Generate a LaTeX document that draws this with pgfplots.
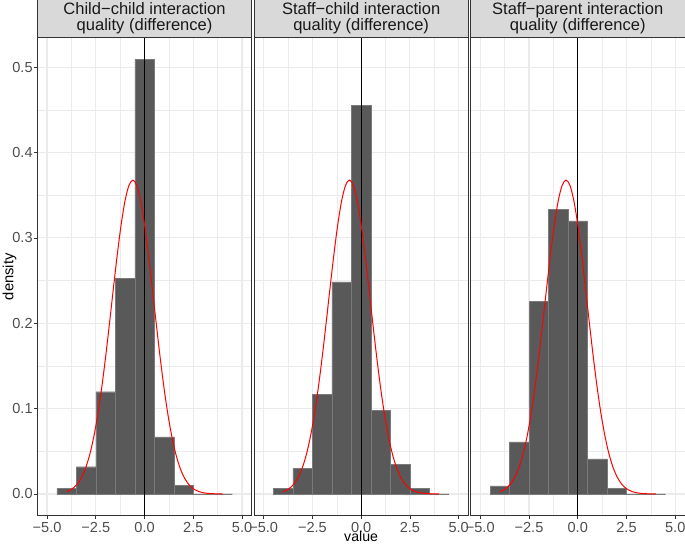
\documentclass[border=0pt]{standalone}
\usepackage{fontspec}
\setmainfont{Liberation Sans}
\usepackage{pgfplots}
\pgfplotsset{compat=1.18}
\definecolor{gridc}{HTML}{EBEBEB}
\definecolor{borderc}{HTML}{333333}
\definecolor{stripc}{HTML}{D9D9D9}
\definecolor{barc}{HTML}{595959}
\definecolor{baredge}{HTML}{7A7A7A}
\definecolor{tickc}{HTML}{4D4D4D}
\pgfplotsset{
  panel/.style={
    scale only axis, width=214.5bp, height=478bp,
    xmin=-5.5, xmax=5.5, ymin=-0.02545, ymax=0.5345,
    xtick={-5,-2.5,0,2.5,5},
    xticklabels={−5.0,−2.5,0.0,2.5,5.0},
    minor xtick={-3.75,-1.25,1.25,3.75},
    ytick={0,0.1,0.2,0.3,0.4,0.5},
    minor ytick={0.05,0.15,0.25,0.35,0.45},
    grid=both,
    major grid style={color=gridc, line width=1.1bp},
    minor grid style={color=gridc, line width=0.55bp},
    tick align=outside, xtick pos=bottom, ytick pos=left,
    major tick length=3bp, minor tick length=0pt,
    every tick/.style={borderc, line width=0.7bp},
    axis line style={draw=borderc, line width=0.7bp},
    xticklabel style={font=\fontsize{14.6}{17}\selectfont, text=tickc, inner sep=0pt, anchor=north, yshift=-3bp},
    yticklabel style={font=\fontsize{14.6}{17}\selectfont, text=tickc, inner sep=0pt, anchor=east, xshift=-1.5bp},
    every axis title shift=0pt,
    title style={at={(axis description cs:0.5,1)}, anchor=south, yshift=0pt,
      draw=borderc, fill=stripc, line width=0.7bp, minimum width=214.5bp,
      minimum height=37.5bp, inner sep=0pt, align=center,
      font=\fontsize{16.6}{16}\selectfont, text={black!90}},
    xlabel style={at={(axis description cs:0.5,-0.0548)}, anchor=base, inner sep=0pt, font=\fontsize{14.2}{17}\selectfont},
    ylabel style={at={(axis description cs:-0.129,0.5)}, anchor=center, inner sep=0pt, font=\fontsize{14.8}{17}\selectfont},
    clip=true,
  },
  bars/.style={ybar, bar width=1, bar shift=0pt, fill=barc, draw=baredge, line width=0.3bp},
  vline/.style={black, line width=0.7bp},
  curve/.style={red, line width=1bp, smooth},
}
\newcommand{\normcurve}{
\addplot[curve] coordinates {
(-4.0,0.00271) (-3.8,0.00475) (-3.6,0.00804) (-3.4,0.01316) (-3.2,0.02083)
(-3.0,0.03184) (-2.8,0.04707) (-2.6,0.06725) (-2.4,0.09287) (-2.2,0.12396)
(-2.0,0.15994) (-1.8,0.19947) (-1.6,0.24045) (-1.4,0.28017) (-1.2,0.31557)
(-1.0,0.34354) (-0.8,0.36150) (-0.6,0.36770) (-0.4,0.36150) (-0.2,0.34354)
(0.0,0.31557) (0.2,0.28017) (0.4,0.24045) (0.6,0.19947) (0.8,0.15994)
(1.0,0.12396) (1.2,0.09287) (1.4,0.06725) (1.6,0.04707) (1.8,0.03184)
(2.0,0.02083) (2.2,0.01316) (2.4,0.00804) (2.6,0.00475) (2.8,0.00271)
(3.0,0.00150) (3.2,0.00080) (3.4,0.00041) (3.6,0.00020) (3.8,0.00010) (4.0,0.00005)
};}
\begin{document}
\begin{tikzpicture}
\path[use as bounding box] (-37.3bp,-28.3bp) rectangle (647.7bp,515.7bp);
\begin{axis}[panel, at={(0bp,0bp)}, anchor=south west,
  title={Child−child interaction\\quality (difference)},
  yticklabels={0.0,0.1,0.2,0.3,0.4,0.5},
  ylabel={density}]
\addplot[bars] coordinates {(-4,0.0066) (-3,0.032) (-2,0.1198) (-1,0.2526) (0,0.509) (1,0.067) (2,0.0105) (3,0) (4,0)};
\addplot[vline] coordinates {(0,-0.03) (0,0.54)};
\normcurve
\end{axis}
\begin{axis}[panel, at={(216.6bp,0bp)}, anchor=south west,
  title={Staff−child interaction\\quality (difference)},
  yticklabels={}, ytick style={draw=none},
  xlabel={value}]
\addplot[bars] coordinates {(-4,0.0066) (-3,0.030) (-2,0.117) (-1,0.2486) (0,0.455) (1,0.098) (2,0.035) (3,0.0066) (4,0)};
\addplot[vline] coordinates {(0,-0.03) (0,0.54)};
\normcurve
\end{axis}
\begin{axis}[panel, at={(433.2bp,0bp)}, anchor=south west,
  title={Staff−parent interaction\\quality (difference)},
  yticklabels={}, ytick style={draw=none}]
\addplot[bars] coordinates {(-4,0.0094) (-3,0.061) (-2,0.226) (-1,0.3333) (0,0.320) (1,0.041) (2,0.0067) (3,0) (4,0)};
\addplot[vline] coordinates {(0,-0.03) (0,0.54)};
\normcurve
\end{axis}
\end{tikzpicture}
\end{document}
